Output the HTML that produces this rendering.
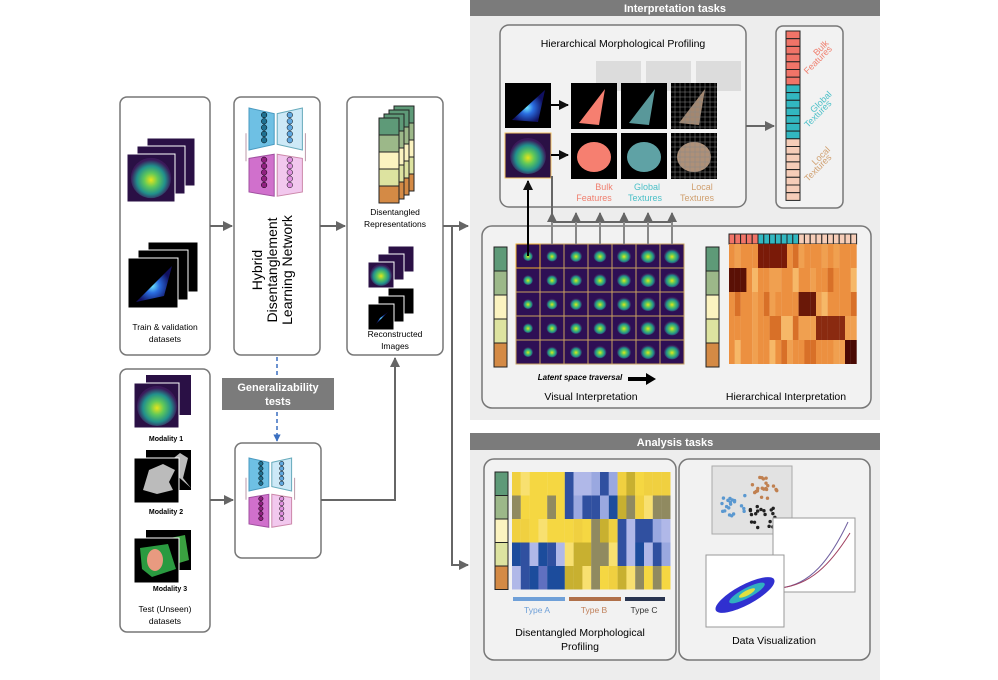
<!DOCTYPE html>
<html><head><meta charset="utf-8"><style>
body{margin:0;background:#fff}
svg{display:block;font-family:"Liberation Sans",Arial,sans-serif}
</style></head><body>
<svg id="s" width="998" height="680" viewBox="0 0 998 680" xmlns="http://www.w3.org/2000/svg">
<defs>
<radialGradient id="cell" cx="50%" cy="55%" r="50%"><stop offset="0" stop-color="#e8e51a"/><stop offset="0.35" stop-color="#5fc85a"/><stop offset="0.7" stop-color="#21908c"/><stop offset="1" stop-color="#3b1a5a"/></radialGradient>
<radialGradient id="cellb" cx="45%" cy="55%" r="50%"><stop offset="0" stop-color="#6ee7ff"/><stop offset="0.4" stop-color="#2a6de0"/><stop offset="1" stop-color="#101060"/></radialGradient>
<marker id="ah" viewBox="0 0 10 10" refX="9" refY="5" markerWidth="5" markerHeight="5" orient="auto"><path d="M0,0L10,5L0,10z" fill="#666"/></marker>
<marker id="ahk" viewBox="0 0 10 10" refX="9" refY="5" markerWidth="5" markerHeight="5" orient="auto"><path d="M0,0L10,5L0,10z" fill="#111"/></marker>
<marker id="ahb" viewBox="0 0 10 10" refX="9" refY="5" markerWidth="5" markerHeight="5" orient="auto"><path d="M0,0L10,5L0,10z" fill="#3a6fc0"/></marker>
</defs>
<rect x="470" y="0" width="410" height="420" fill="#ededed"/>
<rect x="470" y="0" width="410" height="16" fill="#7b7b7b"/>
<text x="675" y="12" font-size="11" font-weight="bold" fill="#fff" text-anchor="middle">Interpretation tasks</text>
<rect x="470" y="433" width="410" height="247" fill="#ededed"/>
<rect x="470" y="433" width="410" height="17" fill="#7b7b7b"/>
<text x="675" y="446" font-size="11" font-weight="bold" fill="#fff" text-anchor="middle">Analysis tasks</text>

<g fill="#fff" stroke="#777" stroke-width="1.5">
<rect x="120" y="97" width="90" height="258" rx="7"/>
<rect x="234" y="97" width="86" height="258" rx="7"/>
<rect x="347" y="97" width="96" height="258" rx="7"/>
<rect x="120" y="369" width="90" height="263" rx="7"/>
<rect x="235" y="443" width="86" height="115" rx="7"/>
</g>
<g fill="#f2f2f2" stroke="#777" stroke-width="1.5">
<rect x="500" y="25" width="246" height="182" rx="9"/>
<rect x="776" y="26" width="67" height="182" rx="7"/>
<rect x="482" y="226" width="389" height="182" rx="10"/>
<rect x="484" y="459" width="192" height="201" rx="10"/>
<rect x="679" y="459" width="191" height="201" rx="10"/>
</g>
<rect x="222" y="378" width="112" height="32" fill="#7b7b7b"/>
<text x="278" y="391" font-size="11" font-weight="bold" fill="#fff" text-anchor="middle">Generalizability</text>
<text x="278" y="405" font-size="11" font-weight="bold" fill="#fff" text-anchor="middle">tests</text>
<line x1="277" y1="357" x2="277" y2="376" stroke="#3a6fc0" stroke-dasharray="4,3" stroke-width="1.5"/>
<line x1="277" y1="412" x2="277" y2="441" stroke="#3a6fc0" stroke-dasharray="4,3" stroke-width="1.5" marker-end="url(#ahb)"/>

<g stroke="#666" stroke-width="2" fill="none">
<line x1="210" y1="226" x2="232" y2="226" marker-end="url(#ah)"/>
<line x1="320" y1="226" x2="345" y2="226" marker-end="url(#ah)"/>
<line x1="443" y1="226" x2="468" y2="226" marker-end="url(#ah)"/>
<polyline points="452,226 452,565 468,565" marker-end="url(#ah)"/>
<line x1="210" y1="500" x2="233" y2="500" marker-end="url(#ah)"/>
<polyline points="321,500 395,500 395,358" marker-end="url(#ah)"/>
<line x1="746" y1="126" x2="774" y2="126" marker-end="url(#ah)"/>
<polyline points="553,222 673,222"/>
</g>

<text x="165" y="330" font-size="8.5" text-anchor="middle">Train &amp; validation</text>
<text x="165" y="342" font-size="8.5" text-anchor="middle">datasets</text>
<text x="166" y="441" font-size="7" font-weight="bold" text-anchor="middle">Modality 1</text>
<text x="166" y="514" font-size="7" font-weight="bold" text-anchor="middle">Modality 2</text>
<text x="170" y="591" font-size="7" font-weight="bold" text-anchor="middle">Modality 3</text>
<text x="165" y="612" font-size="8.5" text-anchor="middle">Test (Unseen)</text>
<text x="165" y="624" font-size="8.5" text-anchor="middle">datasets</text>

<text transform="translate(262,270) rotate(-90)" font-size="14" text-anchor="middle">Hybrid</text>
<text transform="translate(277,270) rotate(-90)" font-size="14" text-anchor="middle">Disentanglement</text>
<text transform="translate(292,270) rotate(-90)" font-size="14" text-anchor="middle">Learning Network</text>

<text x="395" y="215" font-size="8.5" text-anchor="middle">Disentangled</text>
<text x="395" y="227" font-size="8.5" text-anchor="middle">Representations</text>
<text x="395" y="337" font-size="8.5" text-anchor="middle">Reconstructed</text>
<text x="395" y="349" font-size="8.5" text-anchor="middle">Images</text>

<text x="623" y="47" font-size="10.5" text-anchor="middle">Hierarchical Morphological Profiling</text>
<g font-size="9" text-anchor="middle">
<text x="604" y="190" fill="#f08070">Bulk</text><text x="594" y="201" fill="#f08070">Features</text>
<text x="647" y="190" fill="#4cc0c8">Global</text><text x="645" y="201" fill="#4cc0c8">Textures</text>
<text x="702" y="190" fill="#d0a070">Local</text><text x="697" y="201" fill="#d0a070">Textures</text>
</g>
<g font-size="9" text-anchor="middle">
<text transform="translate(823,50) rotate(-45)" fill="#f08070">Bulk</text>
<text transform="translate(820,62) rotate(-45)" fill="#f08070">Features</text>
<text transform="translate(823,104) rotate(-45)" fill="#4cc0c8">Global</text>
<text transform="translate(820,116) rotate(-45)" fill="#4cc0c8">Textures</text>
<text transform="translate(823,158) rotate(-45)" fill="#d0a070">Local</text>
<text transform="translate(820,170) rotate(-45)" fill="#d0a070">Textures</text>
</g>
<text x="580" y="380" font-size="8" font-style="italic" font-weight="bold" text-anchor="middle">Latent space traversal</text>
<path d="M628,377h18v-4l10,6l-10,6v-4h-18z" fill="#000"/>
<text x="591" y="400" font-size="10.5" text-anchor="middle">Visual Interpretation</text>
<text x="786" y="400" font-size="10.5" text-anchor="middle">Hierarchical Interpretation</text>

<g font-size="8.5" text-anchor="middle">
<text x="537" y="613" fill="#6fa0d8">Type A</text>
<text x="594" y="613" fill="#c0805a">Type B</text>
<text x="644" y="613" fill="#333">Type C</text>
</g>
<rect x="513" y="597" width="52" height="4" fill="#6fa0d8"/>
<rect x="569" y="597" width="52" height="4" fill="#b0704a"/>
<rect x="625" y="597" width="40" height="4" fill="#2a3550"/>
<text x="580" y="636" font-size="10.5" text-anchor="middle">Disentangled Morphological</text>
<text x="580" y="650" font-size="10.5" text-anchor="middle">Profiling</text>
<text x="774" y="644" font-size="10.5" text-anchor="middle">Data Visualization</text>
<g id="dyn"></g>
</svg>
<script>
const NS="http://www.w3.org/2000/svg",g=document.getElementById('dyn');
function el(t,a,p){const e=document.createElementNS(NS,t);for(const k in a)e.setAttribute(k,a[k]);(p||g).appendChild(e);return e;}
function R(x,y,w,h,f,s){return el('rect',{x,y,width:w,height:h,fill:f,stroke:s||'none','stroke-width':s?1:0});}
let seed=7;function rnd(){seed=(seed*9301+49297)%233280;return seed/233280;}
function stackCell(x,y,s,grad,n){for(let i=n-1;i>=0;i--){R(x+i*10,y-i*8,s,s,'#2a1045','#fff');}el('circle',{cx:x+s/2,cy:y+s/2,r:s*0.42,fill:'url(#'+grad+')'});}
stackCell(127,154,48,'cell',3);
function blackStack(x,y,s,n){for(let i=n-1;i>=0;i--){R(x+i*10,y-i*8,s,s,'#000','#fff');}el('path',{d:`M${x+8},${y+s-6}L${x+s-6},${y+8}L${x+s-14},${y+s-12}z`,fill:'url(#cellb)'});}
blackStack(128,258,50,3);
R(146,375,45,40,'#2a1045');R(134,383,45,45,'#2a1045','#fff');el('circle',{cx:157,cy:406,r:20,fill:'url(#cell)'});
R(146,450,45,40,'#000');el('path',{d:'M165,465l15,-12l8,5l-5,20l8,10z',fill:'#bbb'});R(134,458,45,45,'#000','#fff');el('path',{d:'M143,490l6,-20l14,-6l12,6l-6,12l4,8l-16,4z',fill:'#bbb'});
R(146,530,45,40,'#000');el('path',{d:'M160,540l25,-5l4,25l-20,6z',fill:'#3aa040'});R(134,538,45,45,'#000','#fff');el('path',{d:'M140,548l28,-4l8,25l-24,8l-10,-8z',fill:'#2a9a40'});el('ellipse',{cx:155,cy:560,rx:8,ry:11,fill:'#e89a80'});
function net(x,y,sc){const w=18*sc,h=30*sc;
 el('line',{x1:x-3,y1:y+h*0.6,x2:x-3,y2:y+h+8*sc,stroke:'#b9a',});
 el('line',{x1:x+2*w+6,y1:y+h*0.6,x2:x+2*w+6,y2:y+h+8*sc,stroke:'#b9a'});
 el('path',{d:`M${x},${y}L${x+w},${y+4*sc}L${x+w},${y+h-4*sc}L${x},${y+h}z`,fill:'#6ec0e4',stroke:'#4a9ac0'});
 el('path',{d:`M${x+w+3},${y+4*sc}L${x+2*w+3},${y}L${x+2*w+3},${y+h}L${x+w+3},${y+h-4*sc}z`,fill:'#cde9f7',stroke:'#6ab'});
 el('path',{d:`M${x},${y+h+6*sc}L${x+w},${y+h+3*sc}L${x+w},${y+2*h+3*sc}L${x},${y+2*h}z`,fill:'#d070cc',stroke:'#a050a0'});
 el('path',{d:`M${x+w+3},${y+h+3*sc}L${x+2*w+3},${y+h+6*sc}L${x+2*w+3},${y+2*h}L${x+w+3},${y+2*h+3*sc}z`,fill:'#f2c8ee',stroke:'#c8a'});
 for(let k=0;k<5;k++){el('circle',{cx:x+w*0.6,cy:y+5*sc+k*4.5*sc,r:2*sc,fill:'#1e7090',stroke:'#000','stroke-width':0.5});el('circle',{cx:x+w+3+w*0.5,cy:y+5*sc+k*4.5*sc,r:2*sc,fill:'#60a8e0',stroke:'#000','stroke-width':0.5});
 el('circle',{cx:x+w*0.6,cy:y+h+7*sc+k*4.5*sc,r:2*sc,fill:'#902080',stroke:'#000','stroke-width':0.5});el('circle',{cx:x+w+3+w*0.5,cy:y+h+7*sc+k*4.5*sc,r:2*sc,fill:'#e090e0',stroke:'#000','stroke-width':0.5});}
}
net(249,108,1.4);net(249,458,1.1);
const rc=['#5e9a78','#9cb889','#fbf3c0','#dde3a0','#d48a45'];
for(let s=3;s>=0;s--){for(let k=0;k<5;k++)R(379+s*5,118-s*4+k*17,20,17,rc[k],'#222');}
stackCell(368,262,26,'cell',3);blackStack(368,304,26,3);
R(505,83,46,45,'#000');el('path',{d:'M512,120L545,90L538,122z',fill:'url(#cellb)'});
R(505,133,46,45,'#2a1045','#f0c060');el('circle',{cx:528,cy:156,r:18,fill:'url(#cell)'});
el('line',{x1:551,y1:105,x2:568,y2:105,stroke:'#000','stroke-width':2,'marker-end':'url(#ahk)'});
el('line',{x1:551,y1:155,x2:568,y2:155,stroke:'#000','stroke-width':2,'marker-end':'url(#ahk)'});
for(let i=0;i<3;i++){R(596+i*50,61,45,30,'#dcdcdc');}
const cc=['#f67f70','#7fd8dc','#e8c0a0'];
for(let i=0;i<3;i++){for(let j=0;j<2;j++){const x=571+i*50,y=83+j*50;R(x,y,46,46,'#000');
 if(j==0)el('path',{d:`M${x+8},${y+40}L${x+34},${y+6}L${x+28},${y+42}z`,fill:cc[i],opacity:i?0.7:1});
 else el('ellipse',{cx:x+23,cy:y+24,rx:17,ry:15,fill:cc[i],opacity:i?0.75:1});
 if(i==2)for(let t=4;t<46;t+=5){el('line',{x1:x+t,y1:y,x2:x+t,y2:y+46,stroke:'#888','stroke-width':0.5});el('line',{x1:x,y1:y+t,x2:x+46,y2:y+t,stroke:'#888','stroke-width':0.5});}}}
for(let k=0;k<22;k++){const c=k<7?'#f07468':k<14?'#32b7c0':'#f6cdb8';R(786,31+k*7.7,14,7.7,c,'#222');}
for(let k=0;k<5;k++){R(494,247+k*24,13,24,rc[k],'#222');R(706,247+k*24,13,24,rc[k],'#222');}
for(let r=0;r<5;r++)for(let c=0;c<7;c++){const x=516+c*24,y=244+r*24;R(x,y,24,24,'#2e0f55','#c8a060');el('ellipse',{cx:x+12,cy:y+12,rx:5+(c*0.5),ry:5+(c*0.4),fill:'url(#cell)'});}
R(516,244,24,24,'none','#f0b030');
el('line',{x1:528,y1:256,x2:528,y2:181,stroke:'#000','stroke-width':2,'marker-end':'url(#ahk)'});
for(let c=1;c<7;c++){const x=540+c*24-12;el('line',{x1:x,y1:222,x2:x,y2:244,stroke:'#888','stroke-width':2});el('line',{x1:x,y1:222,x2:x,y2:213,stroke:'#888','stroke-width':2,'marker-end':'url(#ah)'});}
el('line',{x1:552,y1:222,x2:552,y2:176,stroke:'#666','stroke-width':2});
for(let k=0;k<22;k++){const c=k<5?'#f07468':k<12?'#32b7c0':'#f6cdb8';R(729+k*5.8,234,5.8,10,c,'#222');}
for(let r=0;r<5;r++)for(let k=0;k<22;k++){let v=rnd();let c=v<0.5?'#ec9040':v<0.75?'#f0a050':v<0.9?'#d87028':'#f6b868';
 if(r==0&&k>=5&&k<10)c='#7a1a08';if(r==1&&k<3)c='#5a1005';if(r==2&&k>=12&&k<15)c='#6a1808';if(r==3&&k>=15&&k<20)c='#8a2a10';if(r==4&&k>=20)c='#4a0a04';
 R(729+k*5.8,244+r*24,5.9,24,c);}
for(let k=0;k<5;k++)R(495,472+k*23.5,13,23.5,rc[k],'#222');
const Y=['#f5d742','#f0d040','#c8b030','#908a60','#f8e070'],B=['#9aa8e0','#6070c0','#3050a0','#1c4c9c','#b0b8e8'];
for(let r=0;r<5;r++)for(let k=0;k<18;k++){const grp=k<6?0:k<12?1:2;let blue=(grp==0&&r>=3)||(grp==1&&r<2)||(grp==2&&r>=2&&r<4);
 const pal=blue?B:Y;R(512+k*8.8,472+r*23.5,8.9,23.5,pal[Math.floor(rnd()*5)]);}
R(712,466,80,68,'#e2e2e2','#aaa');
const dc=['#5a98d0','#c08050','#222'];
for(let i=0;i<60;i++){const gI=i%3;const cx=[735,765,762][gI],cy=[506,488,517][gI];el('circle',{cx:cx+(rnd()-0.5)*28,cy:cy+(rnd()-0.5)*22,r:1.7,fill:dc[gI]});}
R(773,518,82,74,'#fff','#999');
el('path',{d:'M780,588C810,585 830,560 848,522',stroke:'#7060a0',fill:'none'});
el('path',{d:'M780,588C810,585 830,565 850,533',stroke:'#a04060',fill:'none'});
R(706,555,78,72,'#fff','#999');
el('ellipse',{cx:745,cy:595,rx:33,ry:10,transform:'rotate(-28 745 595)',fill:'#3030d0'});
el('ellipse',{cx:747,cy:593,rx:20,ry:5,transform:'rotate(-28 747 593)',fill:'#30b0c0'});
el('ellipse',{cx:747,cy:593,rx:9,ry:2.5,transform:'rotate(-28 747 593)',fill:'#e0e040'});
</script>
</body></html>
